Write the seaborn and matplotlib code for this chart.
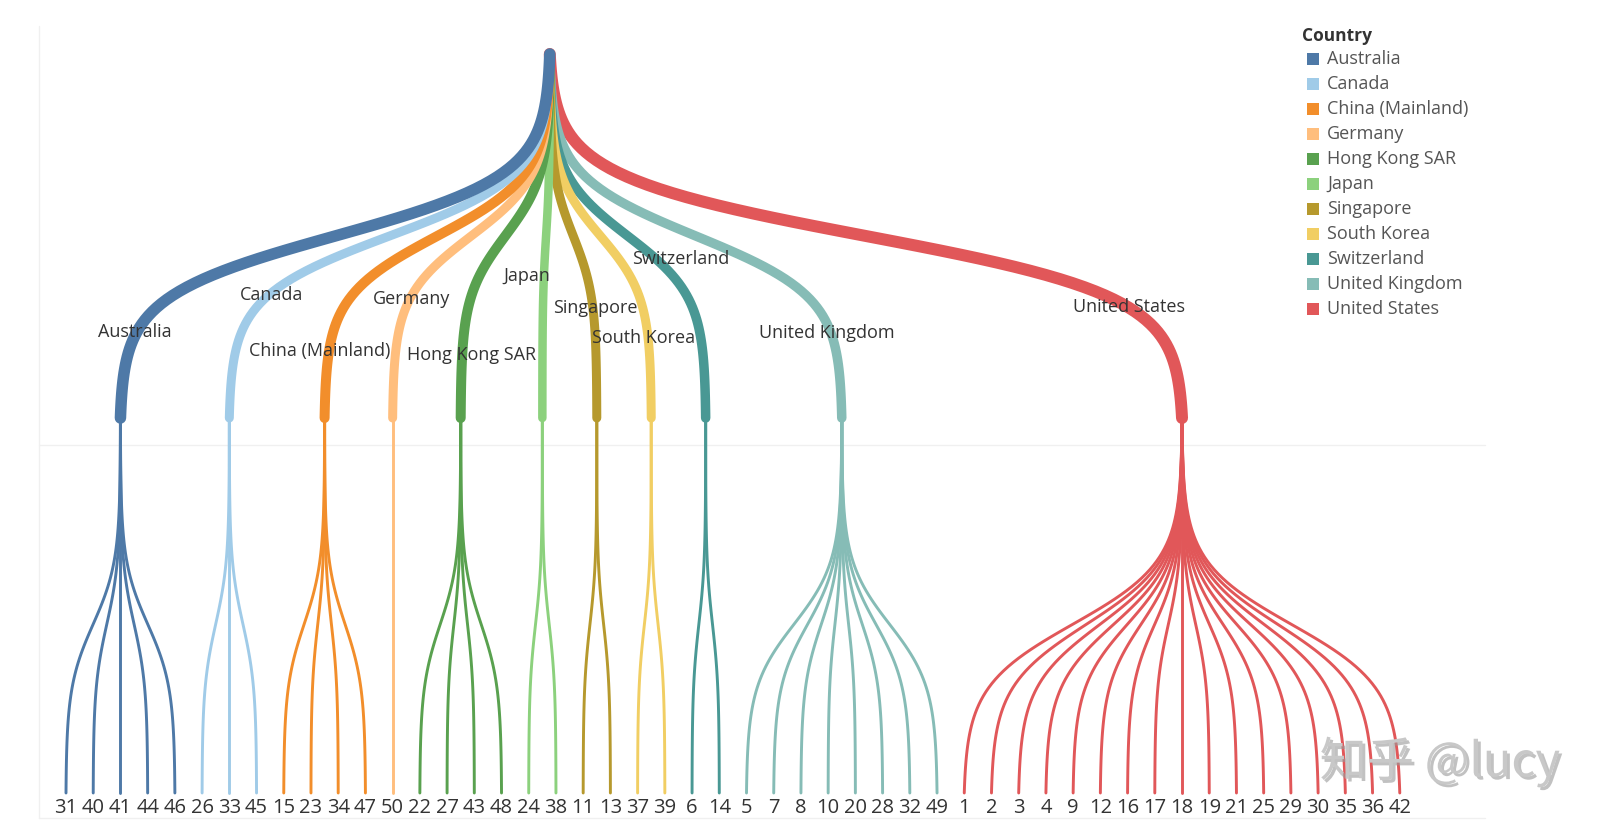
import numpy as np
import pandas as pd
import seaborn as sns
import matplotlib.pyplot as plt
import matplotlib.patheffects as pe

# countries in legend order
countries = ["Australia", "Canada", "China (Mainland)", "Germany", "Hong Kong SAR",
             "Japan", "Singapore", "South Korea", "Switzerland", "United Kingdom",
             "United States"]
colors = ["#4E79A7", "#A0CBE8", "#F28E2B", "#FFBE7D", "#59A14F", "#8CD17D",
          "#B6992D", "#F1CE63", "#499894", "#86BCB6", "#E15759"]

# leaves (ranks) under each country, left to right
leaves = {
    "Australia": [31, 40, 41, 44, 46],
    "Canada": [26, 33, 45],
    "China (Mainland)": [15, 23, 34, 47],
    "Germany": [50],
    "Hong Kong SAR": [22, 27, 43, 48],
    "Japan": [24, 38],
    "Singapore": [11, 13],
    "South Korea": [37, 39],
    "Switzerland": [6, 14],
    "United Kingdom": [5, 7, 8, 10, 20, 28, 32, 49],
    "United States": [1, 2, 3, 4, 9, 12, 16, 17, 18, 19, 21, 25, 29, 30, 35, 36, 42],
}

# branch thickness (px) of the upper curves
branch_px = [11.5, 9, 10, 9, 10, 8.5, 9, 9, 9.5, 9.5, 12]

# layout (pixel space)
W, H = 1604, 833
x_first, x_step = 66, 27.22
y_root, y_node, y_leaf = 54, 418, 793

label_pos = {
    "Australia": (135, 332), "Canada": (272, 295), "China (Mainland)": (320, 351),
    "Germany": (412, 299), "Hong Kong SAR": (472, 355), "Japan": (527, 276),
    "Singapore": (595, 308), "South Korea": (644, 338), "Switzerland": (681, 259),
    "United Kingdom": (827, 333), "United States": (1129, 307),
}


def curve(x0, y0, x1, y1, n=90, k=12, c=0.5):
    s = np.linspace(0, 1, n)
    f = 1 / (1 + np.exp(-k * (s - c)))
    f = (f - f[0]) / (f[-1] - f[0])
    return x0 + (x1 - x0) * f, y0 + (y1 - y0) * s


# leaf x positions and country node positions
leaf_rows = []
node_x = {}
i = 0
for c in countries:
    xs = []
    for r in leaves[c]:
        xs.append(x_first + x_step * i)
        i += 1
    node_x[c] = np.mean(xs)
    for r, lx in zip(leaves[c], xs):
        leaf_rows.append((c, r, lx))
root_x = np.mean(list(node_x.values()))

top_parts = []
for c in countries:
    cx, cy = curve(root_x, y_root, node_x[c], y_node)
    top_parts.append(pd.DataFrame({"x": cx, "y": cy, "country": c}))
top = pd.concat(top_parts, ignore_index=True)

bot_parts = []
for c, r, lx in leaf_rows:
    cx, cy = curve(node_x[c], y_node, lx, y_leaf, c=0.55)
    bot_parts.append(pd.DataFrame({"x": cx, "y": cy, "country": c, "leaf": r}))
bottom = pd.concat(bot_parts, ignore_index=True)

sns.set_style("white")
plt.rcParams["font.family"] = ["Open Sans", "DejaVu Sans"]

fig = plt.figure(figsize=(W / 100, H / 100), dpi=100)
ax = fig.add_axes([0, 0, 1, 1])

# faint pane lines
ax.plot([39, 39], [26, 818], color="#f0f0f0", lw=1, zorder=0)
ax.plot([39, 1485], [445, 445], color="#f0f0f0", lw=1, zorder=0)
ax.plot([39, 1485], [818, 818], color="#f0f0f0", lw=1, zorder=0)

palette = dict(zip(countries, colors))

sns.lineplot(data=bottom, x="x", y="y", hue="country", units="leaf",
             estimator=None, sort=False, palette=palette, linewidth=2.1,
             legend=False, ax=ax)

sns.lineplot(data=top, x="x", y="y", hue="country", size="country",
             hue_order=countries[::-1], size_order=countries[::-1],
             sizes={c: w * 0.72 for c, w in zip(countries, branch_px)},
             estimator=None, sort=False, palette=palette, legend=False,
             solid_capstyle="round", ax=ax)
ax.set_xlim(0, W)
ax.set_ylim(H, 0)
ax.axis("off")

for c in countries:
    lx, ly = label_pos[c]
    ax.text(lx, ly, c, ha="center", va="center", fontsize=13, color="#333333",
            zorder=5)

for c, r, lx in leaf_rows:
    ax.text(lx, 808, str(r), ha="center", va="center", fontsize=14.5,
            color="#333333")

# legend
ax.text(1302, 36, "Country", ha="left", va="center", fontsize=12.5,
        fontweight="bold", color="#333333")
for k, c in enumerate(countries):
    yy = 59 + 25 * k
    ax.scatter([1313], [yy], marker="s", s=85, color=palette[c], linewidths=0)
    ax.text(1327, yy, c, ha="left", va="center", fontsize=13, color="#555555")

ax.text(1440, 762, "知乎 @lucy", ha="center", va="center", fontsize=34,
        color="#c8c8c8", family=["Noto Sans CJK SC", "DejaVu Sans"],
        path_effects=[pe.SimplePatchShadow(offset=(2, -2), shadow_rgbFace="#999999",
                                           alpha=0.6), pe.Normal()])

fig.savefig("out.png", dpi=100)
